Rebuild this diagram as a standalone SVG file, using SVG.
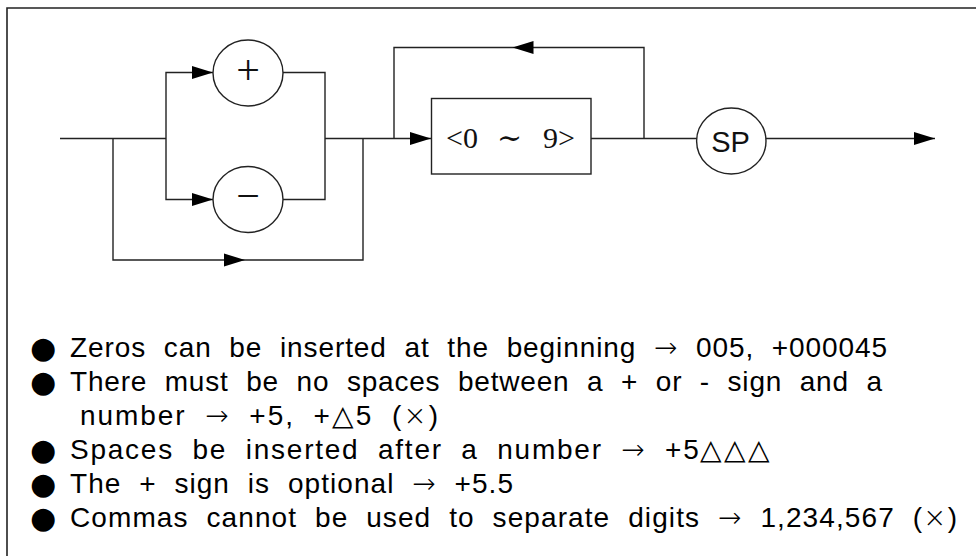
<svg xmlns="http://www.w3.org/2000/svg" xmlns:xlink="http://www.w3.org/1999/xlink" width="976" height="556" viewBox="0 0 976 556">
<style>
.ln{fill:none;stroke:#222;stroke-width:1.4}
.nd{fill:#fff;stroke:#222;stroke-width:1.4}
.ah{fill:#000;stroke:none}
.sym{font-family:"Liberation Serif","DejaVu Serif",serif;font-size:42px;fill:#111;text-anchor:middle}
.lbl{font-family:"Liberation Serif","DejaVu Serif",serif;font-size:30px;fill:#111}
.sp{font-family:"Liberation Sans","DejaVu Sans",sans-serif;font-size:29px;fill:#111;text-anchor:middle}
.tx{font-family:"Liberation Sans","DejaVu Sans",sans-serif;font-size:28px;fill:#000;word-spacing:9px}
.cj{font-family:"DejaVu Sans",sans-serif;font-weight:200}
.bl{font-family:"DejaVu Sans",sans-serif;font-size:30px;fill:#000}
</style>
<defs>
<path id="ah" class="ah" d="M0,0 L-21,-6.5 L-21,6.5 Z"/>
</defs>
<rect width="976" height="556" fill="#fff"/>
<path d="M7,556 V8 H976" fill="none" stroke="#222" stroke-width="1.6"/>
<g id="connectors">
<path class="ln" d="M60,138.5 H166"/>
<path class="ln" d="M113,138.5 V260 H363 V138.5"/>
<path class="ln" d="M213,72.5 H166 V199.5 H213"/>
<path class="ln" d="M283,72.5 H325 V199.5 H283"/>
<path class="ln" d="M325,138.5 H431"/>
<path class="ln" d="M394,138.5 V47.5 H644 V138.5"/>
<path class="ln" d="M591,138.5 H697"/>
<path class="ln" d="M766,138.5 H935"/>
<use xlink:href="#ah" transform="translate(213,72.5)"/>
<use xlink:href="#ah" transform="translate(213,199.5)"/>
<use xlink:href="#ah" transform="translate(245,260)"/>
<use xlink:href="#ah" transform="translate(431,138.5)"/>
<use xlink:href="#ah" transform="translate(512.5,47.5) rotate(180)"/>
<use xlink:href="#ah" transform="translate(935,138.5)"/>
</g>
<g id="plus">
<ellipse class="nd" cx="248" cy="73" rx="35" ry="33"/>
<text class="sym" x="248" y="83.5">+</text>
</g>
<g id="minus">
<ellipse class="nd" cx="248" cy="199.5" rx="35" ry="33"/>
<text class="sym" x="248" y="210">−</text>
</g>
<g id="digits">
<rect class="nd" x="431.5" y="98.5" width="159.5" height="75.5"/>
<text class="lbl" y="147.5"><tspan x="446">&lt;0 </tspan><tspan x="497">∼ </tspan><tspan x="543">9&gt;</tspan></text>
</g>
<g id="sp">
<ellipse class="nd" cx="731.3" cy="141" rx="34.7" ry="33"/>
<text class="sp" x="730.5" y="151.5">SP</text>
</g>
<g id="notes">
<text class="bl" x="30" y="358">●</text>
<text class="tx" x="70" y="357" textLength="817" lengthAdjust="spacing">Zeros can be inserted at the beginning <tspan class="cj">→</tspan> 005, +000045</text>
<text class="bl" x="30" y="392">●</text>
<text class="tx" x="70" y="391" textLength="812" lengthAdjust="spacing">There must be no spaces between a + or - sign and a</text>
<text class="tx" x="80" y="425" textLength="358" lengthAdjust="spacing">number <tspan class="cj">→</tspan> +5, +<tspan class="cj">△</tspan>5 (<tspan class="cj">×</tspan>)</text>
<text class="bl" x="30" y="460">●</text>
<text class="tx" x="70" y="459" textLength="700" lengthAdjust="spacing">Spaces be inserted after a number <tspan class="cj">→</tspan> +5<tspan class="cj">△△△</tspan></text>
<text class="bl" x="30" y="494">●</text>
<text class="tx" x="70" y="493" textLength="443" lengthAdjust="spacing">The + sign is optional <tspan class="cj">→</tspan> +5.5</text>
<text class="bl" x="30" y="528">●</text>
<text class="tx" x="70" y="527" textLength="887" lengthAdjust="spacing">Commas cannot be used to separate digits <tspan class="cj">→</tspan> 1,234,567 (<tspan class="cj">×</tspan>)</text>
</g>
</svg>
